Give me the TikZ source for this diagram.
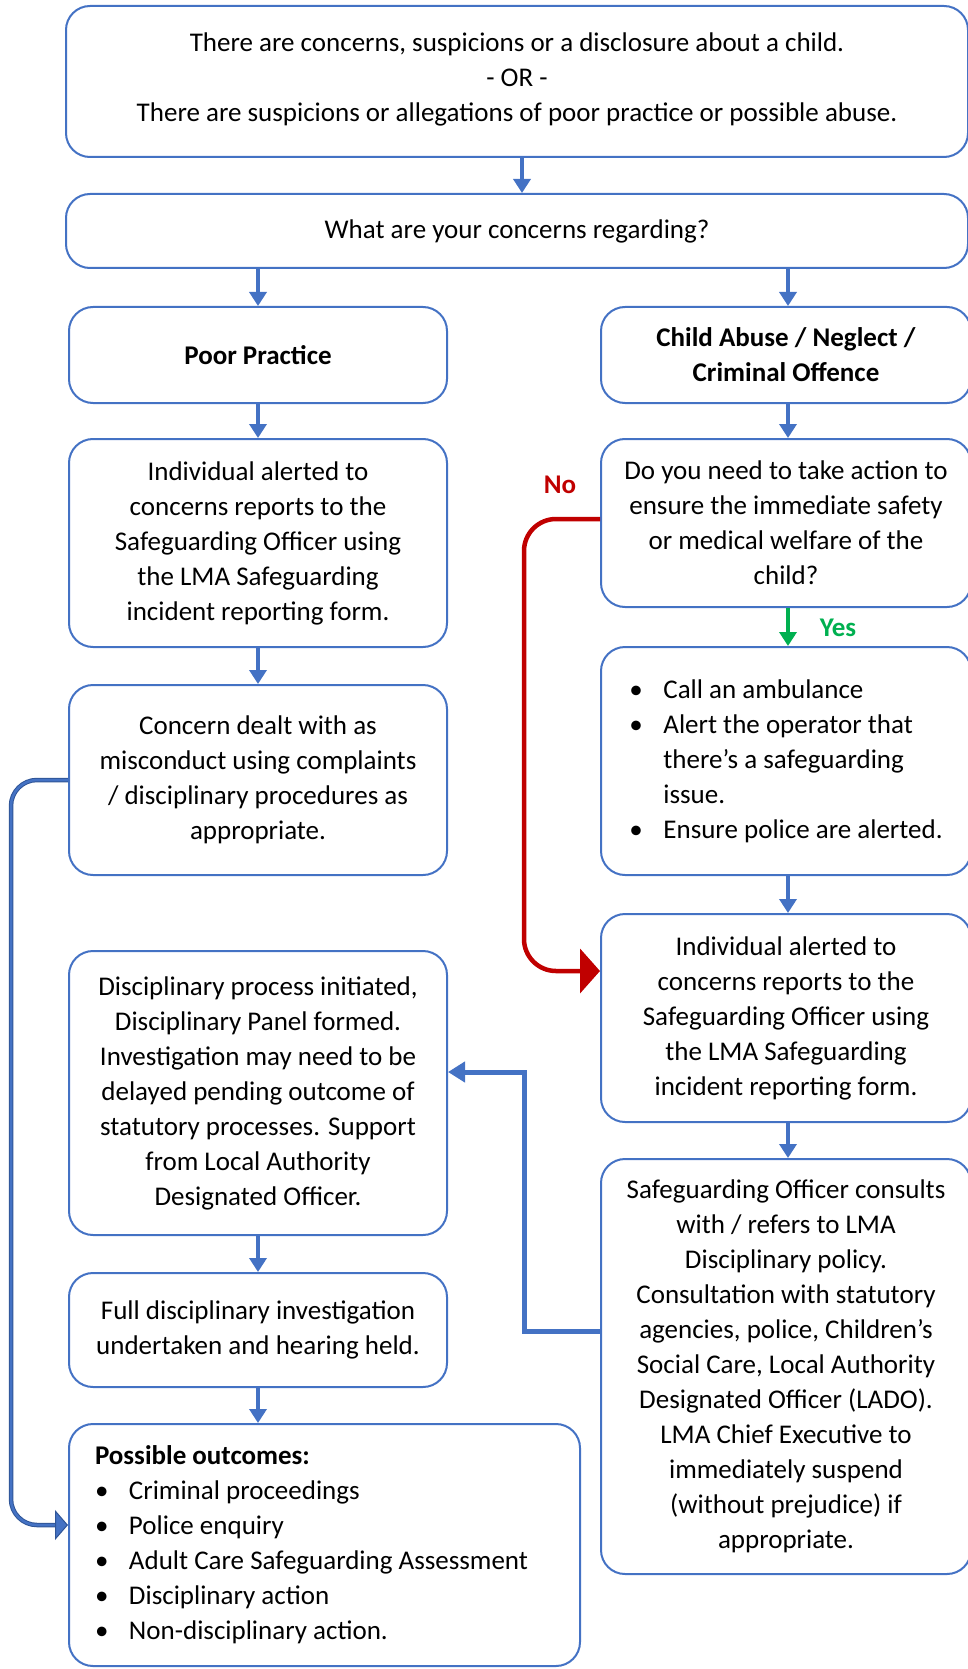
\documentclass[tikz,border=0pt]{standalone}
\usepackage{fontspec}
\setmainfont{Carlito}
\usetikzlibrary{arrows.meta,calc}

\definecolor{boxblue}{HTML}{4472C4}
\definecolor{darkblue}{HTML}{2F5597}
\definecolor{noRed}{HTML}{C00000}
\definecolor{yesGreen}{HTML}{00B050}

\newcommand{\bul}{\makebox[34pt][l]{\textbullet}}
\newcommand{\ind}{\hspace*{34pt}}

\begin{document}
\begin{tikzpicture}[
    x=1pt, y=-1pt,
    font=\fontsize{27}{35}\selectfont,
    box/.style={draw=boxblue, line width=2pt, rounded corners=24pt,
                align=center, inner sep=4pt},
    arr/.style={-{Triangle[width=17pt,length=14pt]}, line width=4pt, draw=boxblue},
    yarr/.style={-{Triangle[width=17pt,length=14pt]}, line width=4pt, draw=yesGreen},
    narr/.style={-{Triangle[width=44pt,length=20pt]}, line width=4.5pt, draw=noRed,
                 rounded corners=32pt},
    barr/.style={-{Triangle[width=20pt,length=17pt]}, line width=5pt, draw=boxblue},
    dblarr/.style={-{Triangle[width=30pt,length=13pt,fill=boxblue]}, draw=darkblue,
                   line width=1pt, double=boxblue, double distance=2.5pt,
                   rounded corners=26pt}
  ]
    \useasboundingbox (0,0) rectangle (968,1669);

    % top of the chart
    \node[box, minimum width=902, minimum height=151] (start) at (517,81.5)
      {There are concerns, suspicions or a disclosure about a child.\\
       - OR -\\
       There are suspicions or allegations of poor practice or possible abuse.\\[-26pt]\mbox{}};
    \node[box, minimum width=902, minimum height=74] (ask) at (517,231)
      {What are your concerns regarding?};

    % left column
    \node[box, minimum width=378, minimum height=96] (poor) at (258,355)
      {\textbf{Poor Practice}};
    \node[box, minimum width=378, minimum height=208] (report) at (258,543)
      {Individual alerted to\\concerns reports to the\\Safeguarding Officer using\\
       the LMA Safeguarding\\incident reporting form.};
    \node[box, minimum width=378, minimum height=190] (misc) at (258,780)
      {Concern dealt with as\\misconduct using complaints\\/ disciplinary procedures as\\
       appropriate.};
    \node[box, minimum width=378, minimum height=284] (proc) at (258,1093)
      {Disciplinary process initiated,\\Disciplinary Panel formed.\\
       Investigation may need to be\\delayed pending outcome of\\
       statutory processes. Support\\from Local Authority\\Designated Officer.};
    \node[box, minimum width=378, minimum height=114] (full) at (258,1330)
      {Full disciplinary investigation\\undertaken and hearing held.};
    \node[box, minimum width=511, minimum height=242, align=flush left,
          text width=459, inner xsep=26pt] (outc) at (324.5,1545)
      {\textbf{Possible outcomes:}\\
       \bul Criminal proceedings\\
       \bul Police enquiry\\
       \bul Adult Care Safeguarding Assessment\\
       \bul Disciplinary action\\
       \bul Non-disciplinary action.};

    % right column
    \node[box, minimum width=370, minimum height=96] (abuse) at (786,355)
      {\textbf{Child Abuse / Neglect /}\\\textbf{Criminal Offence}};
    \node[box, minimum width=370, minimum height=168] (act) at (786,523)
      {Do you need to take action to\\ensure the immediate safety\\
       or medical welfare of the\\child?};
    \node[box, minimum width=370, minimum height=228, align=left] (amb) at (786,761)
      {\bul Call an ambulance\\
       \bul Alert the operator that\\
       \ind there’s a safeguarding\\
       \ind issue.\\
       \bul Ensure police are alerted.};
    \node[box, minimum width=370, minimum height=208] (report2) at (786,1018)
      {Individual alerted to\\concerns reports to the\\Safeguarding Officer using\\
       the LMA Safeguarding\\incident reporting form.};
    \node[box, minimum width=370, minimum height=415] (consult) at (786,1366.5)
      {Safeguarding Officer consults\\with / refers to LMA\\Disciplinary policy.\\
       Consultation with statutory\\agencies, police, Children’s\\
       Social Care, Local Authority\\Designated Officer (LADO).\\
       LMA Chief Executive to\\immediately suspend\\(without prejudice) if\\
       appropriate.};

    % answers
    \node[font=\fontsize{27}{35}\selectfont\bfseries, text=noRed] (lblNo) at (560,485) {No};
    \node[font=\fontsize{27}{35}\selectfont\bfseries, text=yesGreen] (lblYes) at (838,628) {Yes};

    % connectors
    \draw[arr] ([xshift=5pt]start.south) -- ([xshift=5pt]ask.north);
    \draw[arr] (ask.south -| poor.north) -- (poor.north);
    \draw[arr] ([xshift=2pt]ask.south -| abuse.north) -- ([xshift=2pt]abuse.north);
    \draw[arr] (poor) -- (report);
    \draw[arr] (report) -- (misc);
    \draw[arr] (proc) -- (full);
    \draw[arr] (full.south) -- (full.south |- outc.north);
    \draw[arr] ([xshift=2pt]abuse.south) -- ([xshift=2pt]act.north);
    \draw[yarr] ([xshift=2pt]act.south) -- ([xshift=2pt]amb.north);
    \draw[arr] ([xshift=2pt]amb.south) -- ([xshift=2pt]report2.north);
    \draw[arr] ([xshift=2pt]report2.south) -- ([xshift=2pt]consult.north);
    \draw[narr] ([yshift=4pt]act.west) -- ++(-76,0)
      |- ([yshift=47pt]report2.west);
    \draw[barr] ([yshift=35pt]consult.west) -- ++(-76,0)
      |- ([yshift=21pt]proc.east);
    \draw[dblarr] (misc.west) -- ++(-57,0)
      |- ([yshift=20pt]outc.west);
\end{tikzpicture}
\end{document}
